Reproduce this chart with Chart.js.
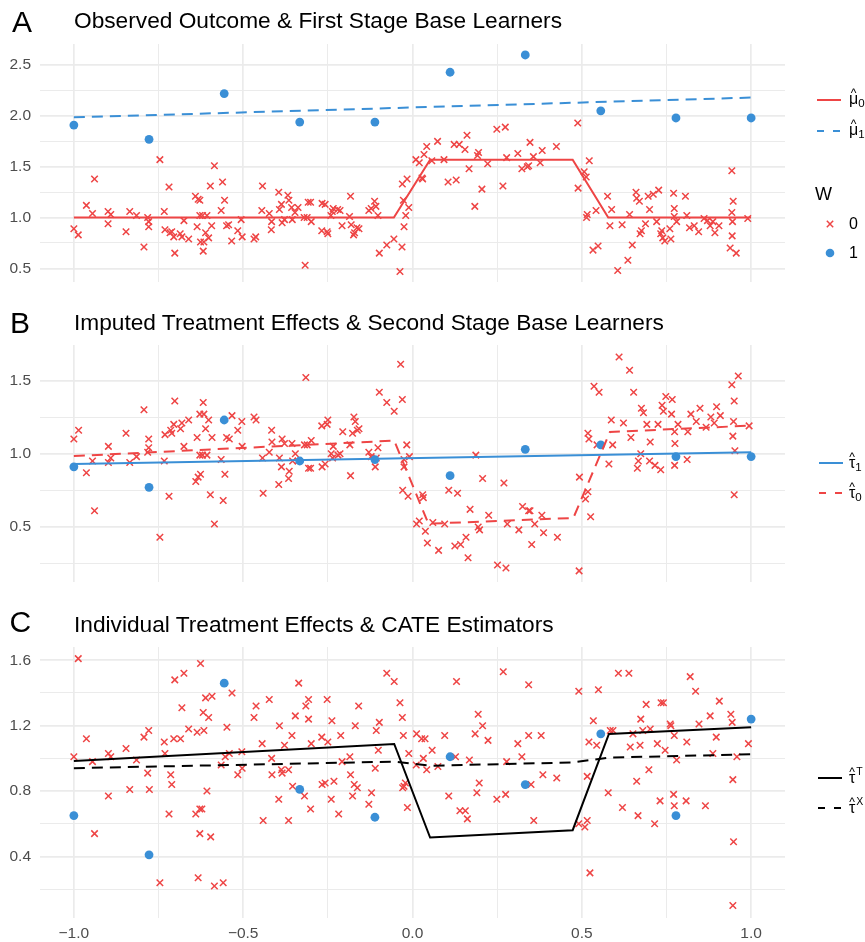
<!DOCTYPE html>
<html>
<head>
<meta charset="utf-8">
<script src="https://cdn.jsdelivr.net/npm/chart.js@4.4.1/dist/chart.umd.min.js"></script>
<style>
html, body { margin: 0; padding: 0; background: #fff; }
body { width: 865px; height: 942px; position: relative; overflow: hidden;
  font-family: "Liberation Sans", Arial, Helvetica, sans-serif; color: #000; }
canvas { position: absolute; left: 0; }
.letter { position: absolute; font-size: 30px; line-height: 30px; }
.title { position: absolute; left: 74px; font-size: 22.7px; line-height: 22.7px; white-space: nowrap; }
.lab { position: absolute; left: 849px; font-size: 16px; line-height: 16px; white-space: nowrap; }
.acc { position: relative; display: inline-block; }
.acc i { position: absolute; left: 0; right: 0; top: -4px; text-align: center; font-style: normal;
  font-size: 12px; line-height: 12px; }
.lab sub { font-size: 11.5px; vertical-align: -3px; line-height: 0; }
.lab sup { font-size: 10.5px; vertical-align: 8px; line-height: 0; margin-left: 1px; }
</style>
</head>
<body>
<canvas id="chartA" width="865" height="300" style="top:0px"></canvas>
<canvas id="chartB" width="865" height="300" style="top:300px"></canvas>
<canvas id="chartC" width="865" height="342" style="top:600px"></canvas>

<div class="letter" style="left:12px;top:7px">A</div>
<div class="title" style="top:9px">Observed Outcome &amp; First Stage Base Learners</div>
<div class="letter" style="left:10px;top:307.6px">B</div>
<div class="title" style="top:310.8px">Imputed Treatment Effects &amp; Second Stage Base Learners</div>
<div class="letter" style="left:9.5px;top:607px">C</div>
<div class="title" style="top:612.5px">Individual Treatment Effects &amp; CATE Estimators</div>

<div class="lab" style="top:91px"><span class="acc">μ<i>^</i></span><sub>0</sub></div>
<div class="lab" style="top:122px"><span class="acc">μ<i>^</i></span><sub>1</sub></div>
<div class="lab" style="left:815px;top:184.8px;font-size:18px;line-height:18px">W</div>
<div class="lab" style="top:216px">0</div>
<div class="lab" style="top:245px">1</div>

<div class="lab" style="top:454.5px"><span class="acc">τ<i>^</i></span><sub>1</sub></div>
<div class="lab" style="top:484.5px"><span class="acc">τ<i>^</i></span><sub>0</sub></div>

<div class="lab" style="top:769.5px"><span class="acc">τ<i>^</i></span><sup>T</sup></div>
<div class="lab" style="top:799.5px"><span class="acc">τ<i>^</i></span><sup>X</sup></div>

<script>
// colours
const red = '#EE4545';
const blue = '#3A8FD6';

// treated units (W = 1), same x in every panel
const treatX = [-1, -0.778, -0.556, -0.333, -0.111, 0.111, 0.333, 0.556, 0.778, 1];
const aTreatY = [1.91, 1.77, 2.22, 1.94, 1.94, 2.43, 2.60, 2.05, 1.98, 1.98];
const bTreatY = [0.91, 0.77, 1.23, 0.95, 0.96, 0.85, 1.03, 1.06, 0.98, 0.98];
const cTreatY = [0.65, 0.41, 1.46, 0.81, 0.64, 1.01, 0.84, 1.15, 0.65, 1.24];

// control units (W = 0), [x, y]
const aControl = [
  [-1.000,0.89],[-0.987,0.83],[-0.963,1.12],[-0.945,1.04],[-0.939,1.38],[-0.899,1.06],[-0.899,0.94],[-0.891,1.03],
  [-0.846,0.86],[-0.835,1.06],[-0.815,1.02],[-0.793,0.71],[-0.782,1.00],[-0.779,0.96],[-0.779,0.91],[-0.746,1.57],
  [-0.733,1.06],[-0.731,0.88],[-0.719,1.30],[-0.716,0.85],[-0.711,0.86],[-0.705,0.81],[-0.702,0.65],[-0.686,0.84],
  [-0.681,0.81],[-0.675,0.97],[-0.661,0.79],[-0.641,1.21],[-0.636,0.91],[-0.633,1.18],[-0.628,1.17],[-0.628,1.02],
  [-0.626,0.76],[-0.620,1.02],[-0.618,0.67],[-0.616,0.76],[-0.611,0.85],[-0.607,1.02],[-0.602,0.80],[-0.597,1.31],
  [-0.593,0.92],[-0.585,1.51],[-0.565,1.07],[-0.561,1.35],[-0.555,1.17],[-0.549,0.92],[-0.543,0.93],[-0.534,0.77],
  [-0.516,0.87],[-0.506,0.98],[-0.503,0.81],[-0.468,0.79],[-0.463,0.81],[-0.443,1.31],[-0.445,1.07],[-0.423,1.04],
  [-0.416,0.96],[-0.417,0.88],[-0.395,1.25],[-0.393,1.08],[-0.387,1.13],[-0.385,0.95],[-0.378,0.98],[-0.368,1.22],
  [-0.365,1.17],[-0.357,1.10],[-0.355,0.98],[-0.347,1.05],[-0.338,1.10],[-0.317,0.53],[-0.320,1.00],[-0.311,1.00],
  [-0.308,1.15],[-0.301,1.15],[-0.299,0.96],[-0.267,1.14],[-0.258,1.13],[-0.268,0.87],[-0.252,0.86],[-0.250,0.84],
  [-0.241,1.02],[-0.237,1.06],[-0.234,1.09],[-0.221,1.08],[-0.214,1.07],[-0.208,0.92],[-0.183,1.21],[-0.186,1.01],
  [-0.181,0.93],[-0.174,0.83],[-0.171,0.85],[-0.164,0.90],[-0.158,0.89],[-0.129,1.07],[-0.122,1.09],[-0.112,1.16],
  [-0.108,1.11],[-0.102,1.02],[-0.098,0.65],[-0.076,0.73],[-0.055,0.79],[-0.037,0.47],[-0.031,0.71],[-0.030,1.33],
  [-0.027,1.17],[-0.020,1.02],[-0.016,1.38],[-0.011,1.10],[-0.025,0.91],[0.010,1.57],[0.020,1.54],[0.028,1.39],
  [0.030,1.38],[0.034,1.62],[0.042,1.70],[0.057,1.56],[0.074,1.75],[0.093,1.57],[0.105,1.35],[0.123,1.72],
  [0.129,1.37],[0.138,1.72],[0.155,1.67],[0.161,1.81],[0.167,1.48],[0.184,1.11],[0.192,1.61],[0.195,1.64],
  [0.205,1.28],[0.222,1.53],[0.249,1.87],[0.267,1.31],[0.274,1.89],[0.278,1.59],[0.311,1.63],[0.323,1.48],
  [0.339,1.50],[0.343,1.51],[0.347,1.74],[0.357,1.60],[0.377,1.54],[0.383,1.66],[0.425,1.70],[0.488,1.93],
  [0.489,1.29],[0.507,1.45],[0.513,1.40],[0.522,1.56],[0.516,1.03],[0.514,1.00],[0.533,0.68],[0.548,0.72],
  [0.542,1.07],[0.576,1.21],[0.583,0.92],[0.588,1.08],[0.606,0.48],[0.619,0.93],[0.636,0.58],[0.641,1.03],
  [0.649,0.73],[0.660,1.25],[0.662,1.19],[0.670,1.16],[0.672,0.84],[0.676,0.87],[0.688,0.94],[0.696,1.21],
  [0.700,1.08],[0.711,1.23],[0.721,0.96],[0.727,1.27],[0.733,0.84],[0.736,0.87],[0.739,0.80],[0.745,0.77],
  [0.760,0.89],[0.763,0.79],[0.771,1.24],[0.773,1.09],[0.773,1.01],[0.780,0.96],[0.806,1.21],[0.810,1.02],
  [0.818,0.90],[0.832,0.92],[0.845,0.86],[0.861,0.99],[0.871,0.97],[0.879,0.92],[0.887,0.96],[0.893,0.85],
  [0.905,0.92],[0.943,1.46],[0.947,1.16],[0.943,1.05],[0.945,0.96],[0.944,0.82],[0.938,0.70],[0.956,0.65],
  [0.990,0.99]
];

const bControl = [
  [-1.000,1.10],[-0.986,1.16],[-0.963,0.87],[-0.945,0.95],[-0.939,0.61],[-0.898,1.05],[-0.898,0.94],[-0.891,0.97],
  [-0.846,1.14],[-0.835,0.94],[-0.815,0.98],[-0.793,1.30],[-0.782,1.01],[-0.779,1.04],[-0.779,1.10],[-0.746,0.43],
  [-0.733,0.95],[-0.731,1.13],[-0.719,0.71],[-0.714,1.16],[-0.711,1.14],[-0.705,1.20],[-0.702,1.36],[-0.685,1.17],
  [-0.681,1.21],[-0.675,1.05],[-0.661,1.23],[-0.640,0.81],[-0.636,1.11],[-0.633,0.84],[-0.628,1.27],[-0.628,0.99],
  [-0.626,0.86],[-0.620,0.99],[-0.618,1.35],[-0.616,1.27],[-0.611,1.17],[-0.607,0.99],[-0.602,1.23],[-0.597,0.72],
  [-0.592,1.11],[-0.585,0.52],[-0.565,0.96],[-0.559,0.68],[-0.554,0.86],[-0.549,1.11],[-0.541,1.10],[-0.533,1.26],
  [-0.516,1.16],[-0.504,1.22],[-0.503,1.05],[-0.468,1.25],[-0.462,1.23],[-0.443,0.97],[-0.441,0.73],[-0.423,1.01],
  [-0.416,1.16],[-0.415,1.08],[-0.395,0.79],[-0.393,0.97],[-0.387,0.91],[-0.385,1.10],[-0.378,1.07],[-0.366,0.83],
  [-0.364,0.88],[-0.356,1.07],[-0.354,0.95],[-0.346,1.00],[-0.338,0.95],[-0.315,1.52],[-0.319,1.06],[-0.311,1.06],
  [-0.307,0.90],[-0.301,0.90],[-0.299,1.09],[-0.267,0.91],[-0.258,0.93],[-0.268,1.19],[-0.252,1.20],[-0.250,1.23],
  [-0.240,1.00],[-0.236,0.97],[-0.234,1.05],[-0.220,0.99],[-0.214,1.00],[-0.206,1.15],[-0.183,0.85],[-0.185,1.06],
  [-0.177,1.14],[-0.173,1.25],[-0.169,1.22],[-0.163,1.16],[-0.158,1.17],[-0.129,1.01],[-0.122,0.98],[-0.110,0.91],
  [-0.107,0.97],[-0.102,1.04],[-0.098,1.42],[-0.076,1.35],[-0.054,1.29],[-0.035,1.61],[-0.030,1.37],[-0.029,0.75],
  [-0.025,0.91],[-0.025,0.96],[-0.017,1.06],[-0.013,0.71],[-0.009,0.98],[0.012,0.52],[0.020,0.54],[0.030,0.72],
  [0.032,0.70],[0.038,0.47],[0.044,0.39],[0.060,0.53],[0.077,0.34],[0.095,0.52],[0.107,0.75],[0.125,0.37],
  [0.133,0.73],[0.142,0.38],[0.158,0.43],[0.164,0.29],[0.170,0.62],[0.187,0.99],[0.194,0.50],[0.198,0.48],
  [0.207,0.83],[0.225,0.58],[0.251,0.24],[0.270,0.80],[0.276,0.22],[0.280,0.52],[0.314,0.48],[0.325,0.64],
  [0.343,0.61],[0.347,0.61],[0.352,0.38],[0.361,0.52],[0.382,0.58],[0.387,0.46],[0.428,0.43],[0.492,0.20],
  [0.493,0.84],[0.511,0.69],[0.518,0.74],[0.526,0.57],[0.518,1.14],[0.521,1.10],[0.536,1.46],[0.551,1.42],
  [0.545,1.06],[0.580,0.93],[0.587,1.23],[0.591,1.06],[0.610,1.66],[0.623,1.21],[0.641,1.57],[0.645,1.11],
  [0.653,1.42],[0.664,0.90],[0.667,0.95],[0.674,1.00],[0.676,1.31],[0.682,1.28],[0.692,1.20],[0.702,1.08],
  [0.700,0.95],[0.716,0.92],[0.725,1.20],[0.733,0.89],[0.737,1.33],[0.741,1.29],[0.748,1.39],[0.765,1.27],
  [0.767,1.37],[0.774,1.15],[0.775,1.07],[0.774,0.92],[0.784,1.20],[0.811,0.96],[0.813,1.15],[0.822,1.27],
  [0.838,1.22],[0.849,1.31],[0.867,1.18],[0.881,1.25],[0.891,1.21],[0.898,1.32],[0.909,1.26],[0.943,1.47],
  [0.962,1.53],[0.950,1.36],[0.948,1.22],[0.946,1.12],[0.952,1.02],[0.950,0.72],[0.994,1.19]
];

const cControl = [
  [-1.000,1.01],[-0.987,1.61],[-0.963,1.12],[-0.945,0.98],[-0.939,0.54],[-0.898,1.03],[-0.898,0.77],[-0.891,1.01],
  [-0.846,1.06],[-0.835,0.81],[-0.815,0.99],[-0.793,1.13],[-0.782,0.91],[-0.779,1.17],[-0.777,0.81],[-0.746,0.24],
  [-0.733,1.10],[-0.731,1.03],[-0.719,0.66],[-0.714,0.90],[-0.711,0.84],[-0.705,1.12],[-0.702,1.48],[-0.685,1.12],
  [-0.681,1.31],[-0.675,1.52],[-0.661,1.18],[-0.640,0.66],[-0.636,1.16],[-0.633,0.27],[-0.628,0.54],[-0.628,0.69],
  [-0.626,1.58],[-0.622,0.69],[-0.618,1.28],[-0.616,1.17],[-0.611,1.37],[-0.607,0.80],[-0.602,1.25],[-0.596,0.52],
  [-0.592,1.38],[-0.585,0.22],[-0.565,0.96],[-0.559,0.24],[-0.553,1.01],[-0.548,1.19],[-0.541,1.03],[-0.533,1.40],
  [-0.516,0.90],[-0.504,1.04],[-0.503,0.94],[-0.468,1.25],[-0.462,1.32],[-0.444,1.09],[-0.441,0.62],[-0.423,1.36],
  [-0.416,1.00],[-0.415,0.90],[-0.395,0.75],[-0.393,1.20],[-0.387,0.93],[-0.385,0.91],[-0.378,1.08],[-0.366,0.62],
  [-0.366,0.93],[-0.356,1.14],[-0.354,0.83],[-0.346,1.26],[-0.336,1.46],[-0.319,0.77],[-0.315,1.32],[-0.307,1.36],
  [-0.307,1.24],[-0.301,0.69],[-0.299,1.09],[-0.268,1.13],[-0.267,0.84],[-0.258,0.85],[-0.252,1.36],[-0.250,1.10],
  [-0.240,0.75],[-0.238,1.23],[-0.232,0.86],[-0.218,0.66],[-0.212,1.14],[-0.208,0.98],[-0.185,1.01],[-0.183,0.90],
  [-0.177,0.77],[-0.172,0.84],[-0.169,1.20],[-0.163,0.82],[-0.159,1.32],[-0.129,0.72],[-0.121,0.79],[-0.110,0.94],
  [-0.107,1.17],[-0.101,1.05],[-0.098,1.22],[-0.076,1.52],[-0.054,1.47],[-0.037,1.34],[-0.030,1.25],[-0.029,0.82],
  [-0.027,1.14],[-0.025,0.83],[-0.021,0.85],[-0.015,0.70],[-0.011,1.03],[0.012,1.15],[0.011,0.96],[0.027,1.12],
  [0.032,1.00],[0.037,1.12],[0.042,0.93],[0.058,1.05],[0.075,0.95],[0.095,1.14],[0.107,0.77],[0.127,1.01],
  [0.130,1.47],[0.140,0.68],[0.156,0.68],[0.162,0.63],[0.168,0.99],[0.185,1.15],[0.190,0.79],[0.194,1.27],
  [0.197,0.85],[0.207,1.20],[0.223,1.11],[0.249,0.75],[0.268,1.53],[0.275,0.78],[0.278,0.98],[0.311,1.09],
  [0.323,1.01],[0.343,1.14],[0.343,1.45],[0.350,0.84],[0.358,0.62],[0.380,1.14],[0.385,0.90],[0.426,0.88],
  [0.491,1.41],[0.491,0.60],[0.509,0.58],[0.516,0.62],[0.516,0.89],[0.521,1.10],[0.524,0.30],[0.534,1.23],
  [0.544,1.08],[0.549,1.42],[0.578,0.79],[0.584,1.17],[0.592,1.17],[0.608,1.52],[0.620,0.70],[0.639,1.52],
  [0.643,1.07],[0.651,1.15],[0.662,0.86],[0.666,0.65],[0.672,1.08],[0.674,1.24],[0.680,1.17],[0.690,1.33],
  [0.698,0.93],[0.702,1.18],[0.715,0.60],[0.723,1.09],[0.731,0.74],[0.734,1.34],[0.741,1.34],[0.746,1.05],
  [0.761,1.21],[0.763,1.20],[0.773,1.14],[0.771,0.78],[0.773,0.71],[0.780,0.99],[0.808,0.74],[0.810,1.10],
  [0.820,1.50],[0.836,1.41],[0.846,1.21],[0.865,0.71],[0.879,1.26],[0.887,1.03],[0.897,1.13],[0.906,1.35],
  [0.940,1.27],[0.944,1.22],[0.946,0.87],[0.948,0.49],[0.958,1.01],[0.946,0.10],[0.992,1.09]
];

// fitted learners (knots of each curve)
const mu0X = [-1, -0.055, 0.052, 0.473, 0.578, 1];
const mu0Y = [1.0, 1.0, 1.57, 1.57, 1.0, 1.0];
const mu1X = [-1, 1];
const mu1Y = [1.986, 2.181];
const tau1X = [-1, 1];
const tau1Y = [0.929, 1.010];
const tau0X = [-1, -0.054, 0.047, 0.475, 0.583, 1];
const tau0Y = [0.984, 1.089, 0.522, 0.561, 1.148, 1.192];
const tauTX = [-1, -0.054, 0.052, 0.473, 0.580, 1];
const tauTY = [0.984, 1.088, 0.516, 0.561, 1.149, 1.191];
const tauXX = [-1, -0.054, 0.052, 0.473, 0.580, 1];
const tauXY = [0.940, 0.980, 0.955, 0.975, 1.005, 1.025];

// axes
const xRange = [-1.1, 1.1];
const xMajor = [-1, -0.5, 0, 0.5, 1];
const xMinor = [-0.75, -0.25, 0.25, 0.75];
const aRange = [0.369, 2.708];
const aYMajor = [0.5, 1, 1.5, 2, 2.5];
const aYMinor = [0.75, 1.25, 1.75, 2.25];
const bRange = [0.126, 1.742];
const bYMajor = [0.5, 1, 1.5];
const bYMinor = [0.25, 0.75, 1.25];
const cRange = [0.024, 1.681];
const cYMajor = [0.4, 0.8, 1.2, 1.6];
const cYMinor = [0.2, 0.6, 1.0, 1.4];

Chart.defaults.font.family = '"Liberation Sans", Arial, Helvetica, sans-serif';
Chart.defaults.font.size = 15.5;
Chart.defaults.color = '#4D4D4D';

const zip = (xs, ys) => xs.map((x, i) => ({ x: x, y: ys[i] }));
const pairs = list => list.map(p => ({ x: p[0], y: p[1] }));
const near = (list, v) => list.some(m => Math.abs(m - v) < 1e-6);
const fmt = v => (v < -1e-9 ? '\u2212' : '') + Math.abs(v).toFixed(1);

function gridOpts(major) {
  return {
    color: '#EBEBEB',
    drawTicks: false,
    lineWidth: c => (c.tick && near(major, c.tick.value)) ? 1.7 : 1.0
  };
}

function yAxis(range, major, minor) {
  return {
    type: 'linear', min: range[0], max: range[1],
    border: { display: false },
    grid: gridOpts(major),
    ticks: { padding: 9, autoSkip: false, callback: v => near(major, v) ? fmt(v) : '' },
    afterBuildTicks: s => { s.ticks = major.concat(minor).sort((a, b) => a - b).map(v => ({ value: v })); },
    afterFit: s => { s.width = 40; }
  };
}

function xAxis(labels, height) {
  return {
    type: 'linear', min: xRange[0], max: xRange[1],
    border: { display: false },
    grid: gridOpts(xMajor),
    ticks: { display: labels, padding: 6, autoSkip: false, maxRotation: 0,
      callback: v => near(xMajor, v) ? fmt(v) : '' },
    afterBuildTicks: s => { s.ticks = xMajor.concat(xMinor).sort((a, b) => a - b).map(v => ({ value: v })); },
    afterFit: s => { s.height = height; }
  };
}

// legend keys drawn next to the html labels
function legendKeys(items) {
  return {
    id: 'legendKeys',
    afterDraw(chart) {
      const ctx = chart.ctx;
      ctx.save();
      items.forEach(k => {
        if (k.type === 'line') {
          ctx.strokeStyle = k.color;
          ctx.lineWidth = 2;
          ctx.setLineDash(k.dash || []);
          ctx.beginPath();
          ctx.moveTo(k.x0, k.y);
          ctx.lineTo(k.x1, k.y);
          ctx.stroke();
        } else if (k.type === 'cross') {
          ctx.setLineDash([]);
          ctx.strokeStyle = k.color;
          ctx.lineWidth = 1.5;
          ctx.beginPath();
          ctx.moveTo(k.x - 3.2, k.y - 3.2); ctx.lineTo(k.x + 3.2, k.y + 3.2);
          ctx.moveTo(k.x - 3.2, k.y + 3.2); ctx.lineTo(k.x + 3.2, k.y - 3.2);
          ctx.stroke();
        } else if (k.type === 'dot') {
          ctx.fillStyle = k.color;
          ctx.beginPath();
          ctx.arc(k.x, k.y, 4.3, 0, Math.PI * 2);
          ctx.fill();
        }
      });
      ctx.restore();
    }
  };
}

function lineSet(xs, ys, color, dash) {
  return { data: zip(xs, ys), showLine: true, borderColor: color, borderWidth: 2,
    borderDash: dash || [], pointRadius: 0, fill: false, tension: 0 };
}
function crossSet(list) {
  return { data: pairs(list), pointStyle: 'crossRot', pointRadius: 4.6, borderWidth: 1.5,
    borderColor: red, backgroundColor: red };
}
function dotSet(ys) {
  return { data: zip(treatX, ys), pointStyle: 'circle', pointRadius: 4.4, borderWidth: 0,
    backgroundColor: blue, borderColor: blue };
}

function makeChart(id, datasets, yOpts, xOpts, top, keys) {
  new Chart(id, {
    type: 'scatter',
    data: { datasets: datasets },
    options: {
      responsive: false,
      animation: false,
      events: [],
      layout: { padding: { top: top, right: 80, left: 0, bottom: 0 } },
      plugins: { legend: { display: false }, tooltip: { enabled: false } },
      scales: { x: xOpts, y: yOpts }
    },
    plugins: [legendKeys(keys)]
  });
}

const dash = [11, 7];
const keyDash = [7, 9];

makeChart('chartA', [
  lineSet(mu0X, mu0Y, red),
  lineSet(mu1X, mu1Y, blue, dash),
  dotSet(aTreatY),
  crossSet(aControl)
], yAxis(aRange, aYMajor, aYMinor), xAxis(false, 12), 44, [
  { type: 'line', color: red, x0: 817, x1: 841, y: 100 },
  { type: 'line', color: blue, x0: 817, x1: 841, y: 131, dash: keyDash },
  { type: 'cross', color: red, x: 830, y: 224 },
  { type: 'dot', color: blue, x: 830, y: 253 }
]);

makeChart('chartB', [
  lineSet(tau1X, tau1Y, blue),
  lineSet(tau0X, tau0Y, red, dash),
  dotSet(bTreatY),
  crossSet(bControl)
], yAxis(bRange, bYMajor, bYMinor), xAxis(false, 10), 45, [
  { type: 'line', color: blue, x0: 819, x1: 843, y: 163 },
  { type: 'line', color: red, x0: 819, x1: 843, y: 193, dash: keyDash }
]);

makeChart('chartC', [
  lineSet(tauTX, tauTY, '#000'),
  lineSet(tauXX, tauXY, '#000', dash),
  dotSet(cTreatY),
  crossSet(cControl)
], yAxis(cRange, cYMajor, cYMinor), xAxis(true, 24), 47, [
  { type: 'line', color: '#000', x0: 818, x1: 842, y: 178 },
  { type: 'line', color: '#000', x0: 818, x1: 842, y: 208, dash: keyDash }
]);
</script>
</body>
</html>
